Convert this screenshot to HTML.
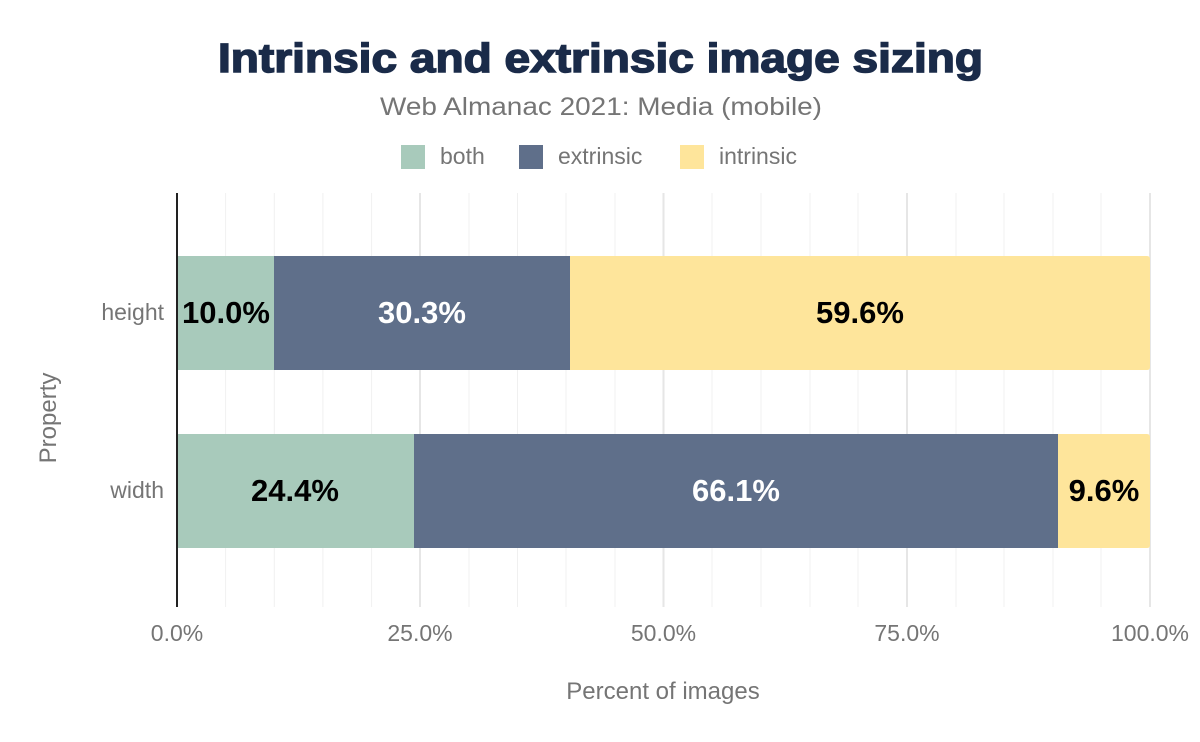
<!DOCTYPE html>
<html><head><style>
body{margin:0;background:#fff;}
svg{display:block;font-family:"Liberation Sans",Arial,sans-serif;}
</style></head><body>
<svg width="1200" height="742" viewBox="0 0 1200 742">
<rect width="1200" height="742" fill="#fff"/>
<text x="218" y="72" textLength="765" lengthAdjust="spacingAndGlyphs" font-size="41" font-weight="900" fill="#1a2b49" stroke="#1a2b49" stroke-width="1.5">Intrinsic and extrinsic image sizing</text>
<text x="380" y="115" textLength="442" lengthAdjust="spacingAndGlyphs" font-size="25" fill="#757575">Web Almanac 2021: Media (mobile)</text>
<rect x="401" y="145" width="24" height="24" fill="#a8cabb"/>
<text x="440" y="164" font-size="23" fill="#757575">both</text>
<rect x="519" y="145" width="24" height="24" fill="#5f6f8a"/>
<text x="558" y="164" font-size="23" fill="#757575">extrinsic</text>
<rect x="680" y="145" width="24" height="24" fill="#fee59b"/>
<text x="719" y="164" font-size="23" fill="#757575">intrinsic</text>
<g stroke="#f0f0f0" stroke-width="1">
<line x1="225.6" y1="193" x2="225.6" y2="607"/><line x1="274.3" y1="193" x2="274.3" y2="607"/><line x1="322.9" y1="193" x2="322.9" y2="607"/><line x1="371.6" y1="193" x2="371.6" y2="607"/>
<line x1="469" y1="193" x2="469" y2="607"/><line x1="517.5" y1="193" x2="517.5" y2="607"/><line x1="566" y1="193" x2="566" y2="607"/><line x1="615" y1="193" x2="615" y2="607"/>
<line x1="712" y1="193" x2="712" y2="607"/><line x1="761" y1="193" x2="761" y2="607"/><line x1="810" y1="193" x2="810" y2="607"/><line x1="858" y1="193" x2="858" y2="607"/>
<line x1="956" y1="193" x2="956" y2="607"/><line x1="1004" y1="193" x2="1004" y2="607"/><line x1="1053" y1="193" x2="1053" y2="607"/><line x1="1101" y1="193" x2="1101" y2="607"/>
</g>
<g stroke="#e6e6e6" stroke-width="2">
<line x1="420" y1="193" x2="420" y2="607"/><line x1="663.5" y1="193" x2="663.5" y2="607"/><line x1="907" y1="193" x2="907" y2="607"/><line x1="1150" y1="193" x2="1150" y2="607"/>
</g>
<rect x="177" y="256" width="97" height="114" fill="#a8cabb"/>
<rect x="274" y="256" width="296" height="114" fill="#5f6f8a"/>
<path d="M570 256H1147Q1150 256 1150 259V367Q1150 370 1147 370H570Z" fill="#fee59b"/>
<rect x="177" y="434" width="237" height="114" fill="#a8cabb"/>
<rect x="414" y="434" width="644" height="114" fill="#5f6f8a"/>
<path d="M1058 434H1147Q1150 434 1150 437V545Q1150 548 1147 548H1058Z" fill="#fee59b"/>
<line x1="177" y1="193" x2="177" y2="607" stroke="#222" stroke-width="2"/>
<g font-size="31" font-weight="bold" text-anchor="middle">
<text x="226" y="323">10.0%</text>
<text x="422" y="323" fill="#fff">30.3%</text>
<text x="860" y="323">59.6%</text>
<text x="295" y="501">24.4%</text>
<text x="736" y="501" fill="#fff">66.1%</text>
<text x="1104" y="501">9.6%</text>
</g>
<g font-size="23" fill="#757575">
<text x="164" y="320" text-anchor="end">height</text>
<text x="164" y="498" text-anchor="end">width</text>
<text x="177" y="641" text-anchor="middle">0.0%</text>
<text x="420" y="641" text-anchor="middle">25.0%</text>
<text x="663.5" y="641" text-anchor="middle">50.0%</text>
<text x="907" y="641" text-anchor="middle">75.0%</text>
<text x="1150" y="641" text-anchor="middle">100.0%</text>
<text x="663" y="699" text-anchor="middle" font-size="24">Percent of images</text>
<text transform="translate(56,418) rotate(-90)" text-anchor="middle" font-size="24">Property</text>
</g>
</svg>
</body></html>
